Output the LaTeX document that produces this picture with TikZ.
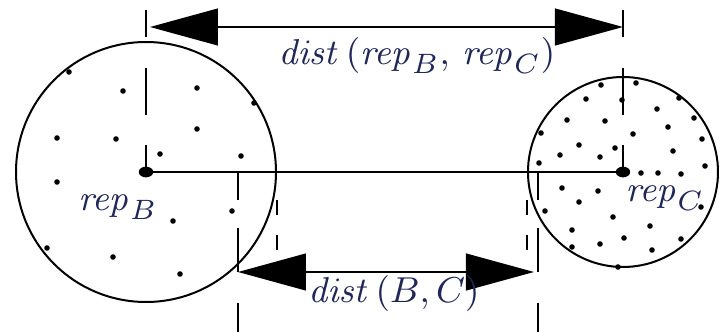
\documentclass[tikz,border=0pt]{standalone}
\usepackage{xcolor}
\usepackage{tikz}
\usetikzlibrary{arrows.meta,positioning}

\definecolor{lblblue}{RGB}{30,38,90}

\begin{document}
\begin{tikzpicture}[
  x=0.25pt, y=-0.25pt,
  every node/.style = {font=\fontsize{9.3}{11}\selectfont, text=lblblue},
  cluster/.style = {draw, circle, line width=0.5pt, inner sep=0pt},
  guide/.style   = {line width=0.45pt},
  edgeguide/.style = {line width=0.45pt, dash pattern=on 3.75pt off 5pt},
  dimarrow/.style = {line width=0.45pt,
                     {Triangle[length=17pt,width=9.2pt]}-{Triangle[length=17pt,width=9.2pt]}},
  dot/.style     = {fill=black},
]
\useasboundingbox (0,0) rectangle (721,332);

%% ---------- CLUSTERS ----------
\coordinate (cB) at (146,172);
\coordinate (cC) at (623,172);
\node[cluster, minimum size=65pt]   (B) at (cB) {};
\node[cluster, minimum size=47.5pt] (C) at (cC) {};

\foreach \p in {(69,72),(123,91),(197,88),(254,103),(57,138),(116,139),
                (197,129),(160,154),(241,156),(57,182),(232,211),(173,221),
                (47,248),(113,257),(180,274)}
  \fill[dot] \p circle[radius=0.7pt];

\foreach \p in {(601,85),(636,83),(586,99),(622,100),(657,109),(679,98),
                (694,118),(567,120),(605,121),(668,127),(541,133),(633,134),
                (702,139),(579,145),(615,148),(560,155),(600,157),(673,151),
                (539,163),(705,166),(641,173),(658,173),(681,174),(562,188),
                (598,191),(579,202),(545,211),(613,217),(701,207),(650,226),
                (572,230),(600,244),(624,238),(681,239),(572,247),(652,250),
                (618,267)}
  \fill[dot] \p circle[radius=0.7pt];

%% representatives
\draw[guide] (cB) -- (cC);
\fill[dot] (cB) circle[x radius=1.8pt, y radius=1.35pt];
\fill[dot] (cC) circle[x radius=1.8pt, y radius=1.35pt];
\node (repB) at (118,207) {$\mathit{rep}_B$};
\node (repC) at (665,198) {$\mathit{rep}_C$};

%% ---------- dist(rep_B, rep_C) ----------
\coordinate (tB) at (146,10);
\coordinate (tC) at (623,10);
\coordinate (aB) at (146,27);
\coordinate (aC) at (623,27);
\draw[guide, dash pattern=on 6.75pt off 7.75pt on 11.75pt off 7.5pt] (tB) -- (cB);
\draw[guide, dash pattern=on 6.75pt off 7.75pt on 11.75pt off 7.5pt] (tC) -- (cC);
\draw[dimarrow, shorten <=1pt] (aB) -- (aC);
\node (lrep) at (417,56) {$\mathit{dist}\,(\mathit{rep}_B,\,\mathit{rep}_C)$};

%% ---------- dist(B,C) ----------
\coordinate (sB) at (238,172);
\coordinate (sC) at (538,172);
\coordinate (eB) at (238,332);
\coordinate (eC) at (538,332);
\coordinate (bB) at (238,272);
\coordinate (bC) at (538,272);
\draw[guide, dash pattern=on 7pt off 7pt on 11pt off 7.75pt on 7.25pt] (sB) -- (eB);
\draw[guide, dash pattern=on 7pt off 7pt on 11pt off 7.75pt on 7.25pt] (sC) -- (eC);
\draw[edgeguide] (277,200) -- (277,250);
\draw[edgeguide] (527,200) -- (527,250);
\draw[dimarrow, shorten >=1pt] (bB) -- (bC);
\node (lset) at (394,294) {$\mathit{dist}\,(B,C)$};

\end{tikzpicture}
\end{document}
